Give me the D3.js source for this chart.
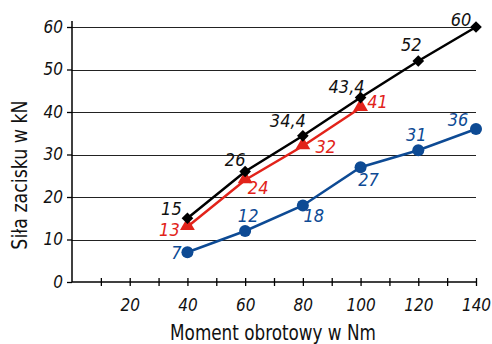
<!DOCTYPE html>
<html><head><meta charset="utf-8">
<script src="https://cdn.jsdelivr.net/npm/d3@7"></script>
<style>
body{margin:0;background:#fff;}
svg text{font-family:"DejaVu Sans",sans-serif;font-stretch:condensed;}
</style></head><body>
<svg id="c" width="492" height="344"></svg>
<script>
const xValues = [40, 60, 80, 100, 120, 140];
const blackValues = [15, 26, 34.4, 43.4, 52, 60];
const blackLabels = ["15", "26", "34,4", "43,4", "52", "60"];
const redX = [40, 60, 80, 100];
const redValues = [13, 24, 32, 41];
const blueValues = [7, 12, 18, 27, 31, 36];
const xTicks = [20, 40, 60, 80, 100, 120, 140];
const yTicks = [0, 10, 20, 30, 40, 50, 60];
const xTitle = "Moment obrotowy w Nm";
const yTitle = "Siła zacisku w kN";

const svg = d3.select("#c");
const x = d3.scaleLinear().domain([0, 140]).range([72, 476]);
const y = d3.scaleLinear().domain([0, 60]).range([282, 27]);
const RED = "#e2231a", BLUE = "#0d4a94";

svg.append("g").selectAll("line").data(yTicks.filter(d => d > 0)).join("line")
  .attr("x1", x(0)).attr("x2", x(140))
  .attr("y1", d => Math.round(y(d)) + 0.5).attr("y2", d => Math.round(y(d)) + 0.5)
  .attr("stroke", "#222").attr("stroke-width", 1.2);

const ya = svg.append("g").attr("transform", `translate(${x(0)},0)`)
  .call(d3.axisLeft(y).tickValues(yTicks).tickSize(5).tickPadding(4));
ya.select(".domain").attr("stroke", "#000").attr("stroke-width", 1.5).attr("d", `M0,${y(0)}V${y(60) - 6}`);
ya.selectAll("line").attr("stroke-width", 1.3);
ya.selectAll("text").attr("font-size", 17).attr("font-style", "italic").attr("fill", "#111").attr("font-family", null);

const xa = svg.append("g").attr("transform", `translate(0,${y(0)})`)
  .call(d3.axisBottom(x).tickValues(d3.range(0, 141, 10)).tickSize(5).tickFormat(d => xTicks.includes(d) ? d : "").tickPadding(12));
xa.select(".domain").attr("stroke", "#000").attr("stroke-width", 1.5).attr("d", `M${x(0)},0H${x(140)}`);
xa.selectAll(".tick line").attr("y1", -4).attr("y2", 4).attr("stroke-width", 1.3)
  .filter(d => d === 0).remove();
xa.selectAll("text").attr("font-size", 17).attr("font-style", "italic").attr("fill", "#111").attr("font-family", null);

svg.append("text").attr("transform", "translate(273,340) scale(0.85,1)").attr("text-anchor", "middle")
  .attr("font-size", 22).attr("fill", "#111").text(xTitle);
svg.append("text").attr("transform", "translate(27,175) rotate(-90) scale(0.88,1)").attr("text-anchor", "middle")
  .attr("font-size", 22).attr("fill", "#111").text(yTitle);

const line = d3.line().x(d => x(d[0])).y(d => y(d[1]));
const blackData = xValues.map((v, i) => [v, blackValues[i], blackLabels[i]]);
const redData = redX.map((v, i) => [v, redValues[i], String(redValues[i])]);
const blueData = xValues.map((v, i) => [v, blueValues[i], String(blueValues[i])]);

svg.append("path").datum(blueData).attr("d", line).attr("fill", "none").attr("stroke", BLUE).attr("stroke-width", 2.5);
svg.append("g").selectAll("circle").data(blueData).join("circle")
  .attr("cx", d => x(d[0])).attr("cy", d => y(d[1])).attr("r", 6).attr("fill", BLUE);
svg.append("path").datum(redData).attr("d", line).attr("fill", "none").attr("stroke", RED).attr("stroke-width", 2.5);
svg.append("g").selectAll("path").data(redData).join("path")
  .attr("d", d3.symbol(d3.symbolTriangle, 95))
  .attr("transform", d => `translate(${x(d[0])},${y(d[1]) - 1})`).attr("fill", RED);
svg.append("path").datum(blackData).attr("d", line).attr("fill", "none").attr("stroke", "#000").attr("stroke-width", 2.5);
svg.append("g").selectAll("path").data(blackData).join("path")
  .attr("d", d3.symbol(d3.symbolSquare, 68))
  .attr("transform", d => `translate(${x(d[0])},${y(d[1])}) rotate(45)`).attr("fill", "#000");

const blackOff = [[-16, -3], [-10, -6], [-15, -9], [-14, -5], [-7, -10], [-15, -1]];
const redOff = [[-18, 9], [13, 14], [23, 7], [17, 0]];
const blueOff = [[-11, 7], [3, -9], [11, 16], [8, 19], [-2, -9], [-18, -3]];
function labels(data, offs, color) {
  svg.append("g").selectAll("text").data(data).join("text")
    .attr("x", (d, i) => x(d[0]) + offs[i][0]).attr("y", (d, i) => y(d[1]) + offs[i][1])
    .attr("text-anchor", "middle").attr("font-size", 18).attr("font-style", "italic")
    .attr("fill", color).text(d => d[2]);
}
labels(blackData, blackOff, "#111");
labels(redData, redOff, RED);
labels(blueData, blueOff, BLUE);
</script></body></html>
